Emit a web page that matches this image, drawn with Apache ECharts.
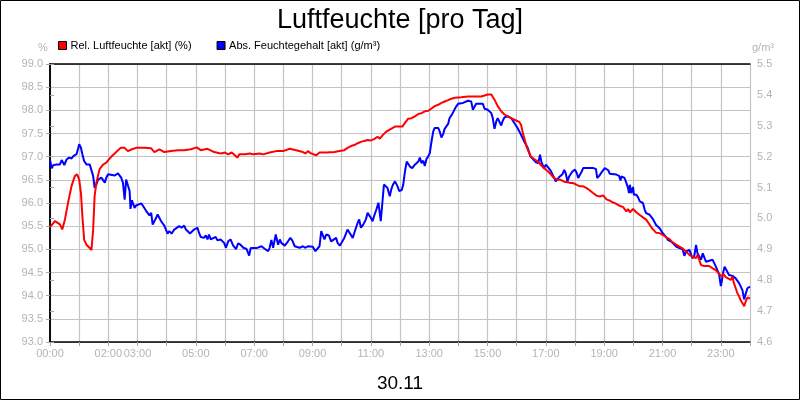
<!DOCTYPE html>
<html>
<head>
<meta charset="utf-8">
<title>Luftfeuchte</title>
<script src="https://cdn.jsdelivr.net/npm/echarts@6/dist/echarts.min.js"></script>
<style>
	html, body { margin: 0; padding: 0; background: #fff; }
	#chart { width: 800px; height: 400px; }
</style>
</head>
<body>
<div id="chart"></div>
<script type="text/javascript">
	// Stunden (0..24) und Werte
	var redTimes = [0, 0.17, 0.34, 0.42, 0.51, 0.63, 0.74, 0.85, 0.93, 1.0, 1.06, 1.11, 1.17, 1.25, 1.36, 1.42, 1.48, 1.53, 1.59, 1.70,
		1.82, 1.93, 2.10, 2.27, 2.42, 2.56, 2.67, 2.81, 2.95, 3.24, 3.47, 3.58, 3.75, 3.92, 4.15, 4.38, 4.60, 4.83, 5.03, 5.17,
		5.40, 5.63, 5.85, 6.0, 6.11, 6.23, 6.34, 6.42, 6.49, 6.68, 6.85, 6.97, 7.19, 7.31, 7.53, 7.76, 7.99, 8.22, 8.44, 8.67,
		8.76, 8.84, 8.95, 9.13, 9.24, 9.47, 9.75, 9.92, 10.09, 10.20, 10.32, 10.43, 10.55, 10.66, 10.77, 10.89, 11.0, 11.11, 11.23, 11.31,
		11.40, 11.51, 11.63, 11.83, 12.08, 12.17, 12.28, 12.40, 12.51, 12.63, 12.74, 12.85, 12.97, 13.08, 13.19, 13.31, 13.42, 13.53, 13.65, 13.76,
		13.88, 14.10, 14.33, 14.56, 14.78, 14.90, 15.01, 15.07, 15.13, 15.18, 15.24, 15.35, 15.47, 15.58, 15.69, 15.81, 15.98, 16.09, 16.15, 16.20,
		16.26, 16.32, 16.38, 16.49, 16.60, 16.72, 16.83, 16.94, 17.06, 17.17, 17.28, 17.40, 17.51, 17.63, 17.74, 17.85, 17.94, 18.06, 18.17, 18.28,
		18.40, 18.51, 18.63, 18.74, 18.85, 18.97, 19.08, 19.19, 19.31, 19.42, 19.53, 19.65, 19.76, 19.82, 19.88, 19.99, 20.10, 20.22, 20.33, 20.44,
		20.56, 20.67, 20.78, 20.90, 21.01, 21.13, 21.24, 21.35, 21.47, 21.58, 21.69, 21.81, 21.92, 22.03, 22.15, 22.20, 22.26, 22.32, 22.38, 22.43,
		22.60, 22.72, 22.83, 22.94, 23.03, 23.08, 23.17, 23.26, 23.34, 23.40, 23.45, 23.51, 23.57, 23.63, 23.68, 23.76, 23.80, 23.85, 23.91, 24.0];
	var redValues = [95.48, 95.61, 95.54, 95.43, 95.64, 96.04, 96.37, 96.58, 96.62, 96.51, 96.22, 95.72, 95.21, 95.10, 95.03, 94.98, 95.43, 96.15, 96.44, 96.73,
		96.83, 96.87, 97.0, 97.10, 97.19, 97.19, 97.12, 97.16, 97.19, 97.19, 97.18, 97.10, 97.16, 97.10, 97.12, 97.14, 97.14, 97.16, 97.20, 97.14,
		97.17, 97.10, 97.07, 97.09, 97.05, 97.09, 97.03, 96.98, 97.05, 97.05, 97.07, 97.05, 97.07, 97.05, 97.09, 97.12, 97.12, 97.17, 97.14, 97.10,
		97.07, 97.12, 97.07, 97.03, 97.09, 97.09, 97.10, 97.12, 97.14, 97.19, 97.23, 97.25, 97.29, 97.32, 97.34, 97.36, 97.35, 97.38, 97.43, 97.39,
		97.46, 97.53, 97.58, 97.65, 97.65, 97.73, 97.82, 97.83, 97.87, 97.92, 97.94, 97.98, 97.99, 98.04, 98.09, 98.12, 98.16, 98.19, 98.22, 98.25,
		98.27, 98.28, 98.30, 98.30, 98.30, 98.32, 98.34, 98.35, 98.34, 98.30, 98.23, 98.09, 97.98, 97.91, 97.87, 97.83, 97.78, 97.75, 97.69, 97.55,
		97.40, 97.26, 97.15, 97.00, 96.95, 96.90, 96.82, 96.75, 96.69, 96.62, 96.54, 96.50, 96.50, 96.46, 96.45, 96.43, 96.43, 96.39, 96.36, 96.36,
		96.32, 96.27, 96.21, 96.16, 96.14, 96.16, 96.08, 96.05, 96.01, 95.98, 95.94, 95.91, 95.82, 95.87, 95.80, 95.87, 95.80, 95.74, 95.69, 95.64,
		95.53, 95.43, 95.36, 95.35, 95.31, 95.26, 95.22, 95.15, 95.10, 95.06, 95.02, 94.95, 94.88, 94.84, 94.81, 94.88, 94.77, 94.66, 94.70, 94.64,
		94.64, 94.59, 94.55, 94.47, 94.41, 94.47, 94.40, 94.37, 94.34, 94.41, 94.27, 94.16, 94.05, 93.98, 93.90, 93.82, 93.77, 93.87, 93.96, 93.94];

	var blueTimes = [0, 0.06, 0.11, 0.23, 0.34, 0.40, 0.45, 0.49, 0.57, 0.65, 0.74, 0.80, 0.85, 0.91, 0.97, 1.0, 1.06, 1.11, 1.17, 1.25,
		1.36, 1.42, 1.48, 1.53, 1.59, 1.65, 1.76, 1.88, 1.93, 1.99, 2.22, 2.33, 2.44, 2.50, 2.56, 2.61, 2.67, 2.73, 2.76, 2.81,
		2.90, 2.95, 3.13, 3.30, 3.41, 3.47, 3.52, 3.64, 3.69, 3.75, 3.81, 3.92, 4.03, 4.09, 4.17, 4.26, 4.43, 4.51, 4.60, 4.66,
		4.80, 4.94, 5.06, 5.11, 5.17, 5.28, 5.34, 5.40, 5.45, 5.51, 5.68, 5.74, 5.85, 5.97, 6.03, 6.11, 6.19, 6.28, 6.38, 6.45,
		6.53, 6.63, 6.74, 6.83, 6.88, 7.08, 7.25, 7.36, 7.48, 7.53, 7.59, 7.65, 7.74, 7.82, 7.88, 7.93, 8.05, 8.16, 8.24, 8.31,
		8.39, 8.56, 8.67, 8.76, 8.84, 9.01, 9.10, 9.24, 9.30, 9.35, 9.41, 9.47, 9.56, 9.64, 9.69, 9.81, 9.86, 9.94, 10.09, 10.15,
		10.20, 10.26, 10.38, 10.47, 10.55, 10.60, 10.66, 10.74, 10.83, 10.89, 11.0, 11.06, 11.11, 11.19, 11.26, 11.34, 11.40, 11.45, 11.51, 11.57,
		11.65, 11.70, 11.76, 11.83, 11.92, 11.97, 12.06, 12.11, 12.17, 12.23, 12.28, 12.34, 12.42, 12.51, 12.63, 12.68, 12.74, 12.80, 12.85, 12.91,
		12.97, 13.02, 13.08, 13.14, 13.19, 13.31, 13.36, 13.42, 13.48, 13.53, 13.65, 13.70, 13.78, 13.85, 13.93, 13.99, 14.16, 14.22, 14.33, 14.44,
		14.50, 14.56, 14.61, 14.76, 14.84, 14.90, 15.01, 15.13, 15.18, 15.24, 15.30, 15.35, 15.41, 15.47, 15.52, 15.58, 15.69, 15.81, 15.92, 16.03,
		16.15, 16.26, 16.38, 16.47, 16.55, 16.66, 16.74, 16.80, 16.85, 16.94, 17.0, 17.08, 17.17, 17.26, 17.34, 17.45, 17.57, 17.63, 17.68, 17.74,
		17.80, 17.91, 18.0, 18.06, 18.11, 18.17, 18.23, 18.28, 18.63, 18.72, 18.76, 18.83, 18.91, 18.97, 19.02, 19.08, 19.14, 19.19, 19.42, 19.51,
		19.56, 19.59, 19.65, 19.70, 19.76, 19.82, 19.85, 19.88, 19.93, 19.99, 20.02, 20.10, 20.16, 20.22, 20.33, 20.39, 20.44, 20.56, 20.67, 20.78,
		20.90, 21.01, 21.13, 21.18, 21.24, 21.30, 21.35, 21.47, 21.58, 21.69, 21.75, 21.81, 21.92, 22.03, 22.09, 22.15, 22.17, 22.20, 22.32, 22.38,
		22.41, 22.49, 22.72, 22.83, 22.94, 23.0, 23.03, 23.08, 23.13, 23.17, 23.28, 23.40, 23.51, 23.63, 23.74, 23.80, 23.85, 23.91, 24.0];
	var blueValues = [5.189, 5.162, 5.172, 5.175, 5.175, 5.189, 5.186, 5.173, 5.191, 5.197, 5.194, 5.202, 5.197, 5.208, 5.229, 5.240, 5.229, 5.208, 5.186, 5.175,
		5.175, 5.172, 5.137, 5.099, 5.110, 5.126, 5.132, 5.116, 5.132, 5.143, 5.139, 5.146, 5.132, 5.116, 5.061, 5.126, 5.132, 5.089, 5.031, 5.059,
		5.034, 5.042, 5.049, 5.024, 5.010, 5.018, 4.980, 5.002, 5.013, 5.018, 4.991, 4.977, 4.951, 4.959, 4.951, 4.964, 4.975, 4.970, 4.977, 4.964,
		4.951, 4.964, 4.970, 4.953, 4.940, 4.937, 4.945, 4.932, 4.948, 4.932, 4.940, 4.929, 4.932, 4.921, 4.905, 4.926, 4.932, 4.912, 4.901, 4.919,
		4.915, 4.905, 4.901, 4.880, 4.904, 4.904, 4.910, 4.902, 4.894, 4.905, 4.930, 4.905, 4.948, 4.915, 4.932, 4.921, 4.912, 4.926, 4.937, 4.928,
		4.910, 4.905, 4.910, 4.905, 4.910, 4.908, 4.894, 4.910, 4.959, 4.953, 4.932, 4.948, 4.945, 4.926, 4.921, 4.937, 4.921, 4.912, 4.937, 4.932,
		4.964, 4.970, 4.937, 4.964, 4.986, 4.997, 4.970, 4.980, 4.997, 5.018, 5.002, 4.991, 5.007, 5.029, 5.051, 4.991, 5.056, 5.110, 5.116, 5.099,
		5.072, 5.094, 5.110, 5.120, 5.103, 5.089, 5.092, 5.109, 5.152, 5.184, 5.187, 5.168, 5.163, 5.174, 5.184, 5.197, 5.179, 5.187, 5.170, 5.193,
		5.201, 5.211, 5.249, 5.282, 5.293, 5.293, 5.282, 5.262, 5.273, 5.290, 5.306, 5.325, 5.336, 5.349, 5.363, 5.371, 5.374, 5.379, 5.381, 5.379,
		5.352, 5.358, 5.371, 5.371, 5.371, 5.355, 5.352, 5.341, 5.325, 5.290, 5.314, 5.325, 5.325, 5.301, 5.316, 5.327, 5.331, 5.325, 5.309, 5.293,
		5.271, 5.249, 5.228, 5.201, 5.193, 5.182, 5.179, 5.206, 5.182, 5.163, 5.174, 5.165, 5.154, 5.136, 5.120, 5.133, 5.143, 5.157, 5.147, 5.120,
		5.136, 5.152, 5.158, 5.147, 5.131, 5.136, 5.152, 5.163, 5.163, 5.160, 5.131, 5.138, 5.149, 5.152, 5.163, 5.169, 5.156, 5.145, 5.142, 5.138,
		5.123, 5.136, 5.138, 5.131, 5.115, 5.098, 5.082, 5.109, 5.082, 5.102, 5.077, 5.077, 5.069, 5.055, 5.050, 5.028, 5.017, 5.012, 4.998, 4.979,
		4.968, 4.952, 4.939, 4.931, 4.933, 4.925, 4.928, 4.909, 4.904, 4.900, 4.879, 4.893, 4.898, 4.871, 4.879, 4.914, 4.920, 4.887, 4.866, 4.887,
		4.893, 4.860, 4.866, 4.844, 4.820, 4.781, 4.795, 4.825, 4.844, 4.839, 4.817, 4.814, 4.806, 4.790, 4.768, 4.738, 4.755, 4.774, 4.779];

	// beschriftete Stunden auf der x-Achse
	var xLabelHours = [0, 2, 3, 5, 7, 9, 11, 13, 15, 17, 19, 21, 23];

	var redName = 'Rel. Luftfeuchte [akt] (%)';
	var blueName = 'Abs. Feuchtegehalt [akt] (g/m³)';

	function pairs(times, values) {
		var out = [];
		for (var i = 0; i < times.length; i++) {
			out.push([times[i], values[i]]);
		}
		return out;
	}

	var font = 'Liberation Sans, Arial, sans-serif';
	var labelGrey = '#b4b4b4';
	var gridGrey = '#c4c4c4';
	var tickGrey = '#a8a8a8';

	var chart = echarts.init(document.getElementById('chart'));
	var option = {
		backgroundColor: '#fff',
		animation: false,
		textStyle: { fontFamily: font },
		title: [{
			text: 'Luftfeuchte [pro Tag]',
			left: 'center',
			top: 2,
			textStyle: { fontFamily: font, fontSize: 27, fontWeight: 'normal', color: '#000' }
		}, {
			text: '30.11',
			left: 'center',
			top: 369,
			textStyle: { fontFamily: font, fontSize: 19, fontWeight: 'normal', color: '#000' }
		}],
		legend: {
			data: [redName, blueName],
			left: 53,
			top: 35,
			icon: 'rect',
			itemWidth: 8,
			itemHeight: 8,
			itemGap: 25,
			itemStyle: { borderColor: '#000', borderWidth: 1 },
			textStyle: { fontFamily: font, fontSize: 11, color: '#000', padding: [0, 0, 0, -1] }
		},
		grid: { left: 50, right: 50, top: 64, bottom: 58 },
		xAxis: [{
			type: 'value',
			position: 'bottom',
			min: 0,
			max: 24,
			interval: 1,
			axisLine: { lineStyle: { color: '#000', width: 1.5 } },
			axisTick: { show: true, length: 4, lineStyle: { color: tickGrey } },
			splitLine: { show: true, lineStyle: { color: gridGrey, width: 1.2 } },
			axisLabel: {
				color: labelGrey,
				fontSize: 11,
				margin: 6,
				formatter: function (v) {
					if (xLabelHours.indexOf(v) < 0) return '';
					return (v < 10 ? '0' + v : v) + ':00';
				}
			}
		}, {
			// nur der obere Rand der Zeichenfläche
			type: 'value',
			position: 'top',
			min: 0,
			max: 24,
			axisLine: { show: true, lineStyle: { color: '#000', width: 1.5 } },
			axisTick: { show: false },
			axisLabel: { show: false },
			splitLine: { show: false }
		}],
		yAxis: [{
			type: 'value',
			position: 'left',
			min: 93,
			max: 99,
			interval: 0.5,
			axisLine: { show: true, lineStyle: { color: '#000', width: 1.5 } },
			axisTick: { show: true, length: 4, lineStyle: { color: tickGrey } },
			splitLine: { show: true, lineStyle: { color: gridGrey, width: 1.2 } },
			axisLabel: {
				color: labelGrey,
				fontSize: 11,
				margin: 7,
				formatter: function (v) { return v.toFixed(1); }
			}
		}, {
			type: 'value',
			position: 'right',
			min: 4.6,
			max: 5.5,
			interval: 0.1,
			axisLine: { show: true, lineStyle: { color: '#000', width: 1.5 } },
			axisTick: { show: true, length: 4, lineStyle: { color: tickGrey } },
			splitLine: { show: false },
			axisLabel: {
				color: labelGrey,
				fontSize: 11,
				margin: 7,
				formatter: function (v) { return v.toFixed(1); }
			}
		}],
		series: [{
			name: redName,
			type: 'line',
			z: 3,
			xAxisIndex: 0,
			yAxisIndex: 0,
			showSymbol: false,
			color: '#ff0000',
			lineStyle: { color: '#ff0000', width: 2 },
			data: pairs(redTimes, redValues)
		}, {
			name: blueName,
			type: 'line',
			z: 2,
			xAxisIndex: 0,
			yAxisIndex: 1,
			showSymbol: false,
			color: '#0000ff',
			lineStyle: { color: '#0000ff', width: 2 },
			data: pairs(blueTimes, blueValues)
		}],
		graphic: [{
			// Rahmen um das ganze Bild
			type: 'rect',
			silent: true,
			z: 100,
			shape: { x: 0.5, y: 0.5, width: 799, height: 399 },
			style: { fill: 'none', stroke: '#000', lineWidth: 1 }
		}, {
			// Einheiten über den Achsen
			type: 'text',
			left: 38,
			top: 42,
			style: { text: '%', fill: labelGrey, font: '11px ' + font }
		}, {
			type: 'text',
			left: 752,
			top: 42,
			style: { text: 'g/m³', fill: labelGrey, font: '11px ' + font }
		}]
	};
	chart.setOption(option);
</script>
</body>
</html>
